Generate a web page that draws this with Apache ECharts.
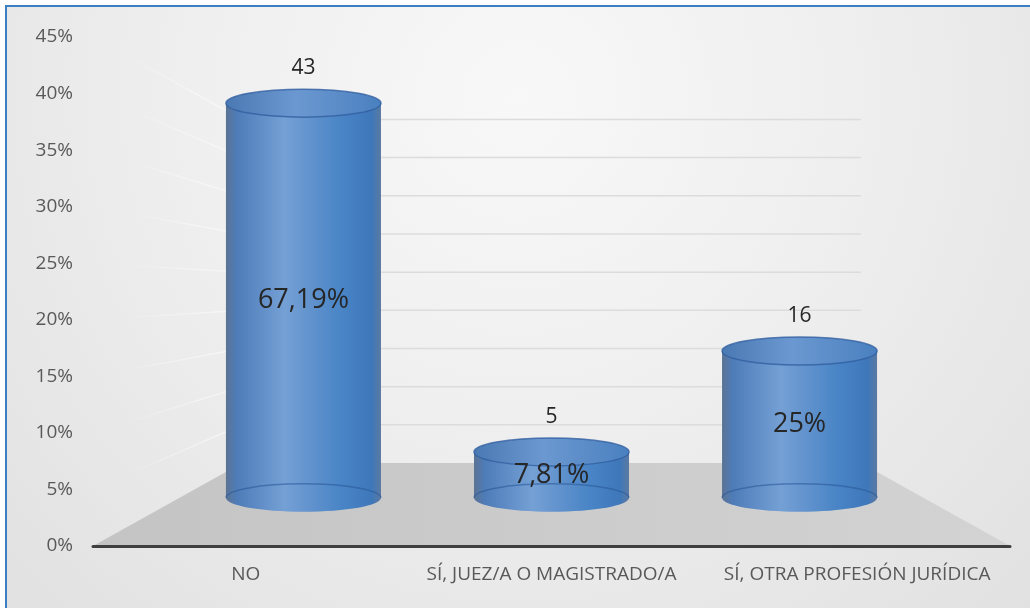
<!DOCTYPE html>
<html>
<head>
<meta charset="utf-8">
<script src="https://cdn.jsdelivr.net/npm/echarts@6/dist/echarts.min.js"></script>
<style>
html, body { margin: 0; padding: 0; background: #fff; }
#frame {
  position: absolute; left: 5px; top: 5px;
  width: 1023px; height: 601px;
  border-top: 2px solid #3a7fc4; border-left: 2px solid #3a7fc4;
}
#chart {
  width: 1023px; height: 601px;
  background: radial-gradient(ellipse at 50% 15%, #f8f8f8 0%, #efefef 45%, #e1e1e1 100%);
}
</style>
</head>
<body>
<div id="frame"><div id="chart"></div></div>
<script>
const categories = ["NO", "SÍ, JUEZ/A O MAGISTRADO/A", "SÍ, OTRA PROFESIÓN JURÍDICA"];
const counts = [43, 5, 16];
const percents = [67.19, 7.81, 25];
const yTicks = [0, 5, 10, 15, 20, 25, 30, 35, 40, 45];

// perspective of the fake 3d box
const BACK_SCALE = 0.675; // back wall size vs front plane
const DEPTH_PX = 83; // how far the back floor edge sits above the front edge
const BAR_DEPTH = 0.58; // where the cylinders stand (0 front, 1 back)

function project(pt, d, cs, y0) {
  const s = 1 - d * (1 - BACK_SCALE);
  const cx = cs.x + cs.width / 2;
  return [cx + (pt[0] - cx) * s, y0 - d * DEPTH_PX - (y0 - pt[1]) * s];
}

let mychart = echarts.init(document.getElementById("chart"));

mychart.setOption({
  animation: false,
  grid: { left: 86, right: 20, top: 30, bottom: 62 },
  xAxis: {
    type: "category",
    data: categories,
    z: 5,
    axisLine: { lineStyle: { color: "#3f3f3f", width: 3 } },
    axisTick: { show: false },
    axisLabel: {
      interval: 0,
      hideOverlap: false,
      color: "#595959",
      fontSize: 19,
      fontFamily: "Open Sans",
      margin: 19
    }
  },
  yAxis: {
    type: "value",
    min: 0,
    max: 45,
    interval: 5,
    axisLine: { show: false },
    axisTick: { show: false },
    splitLine: { show: false },
    axisLabel: {
      color: "#595959",
      fontSize: 19,
      fontFamily: "Open Sans",
      margin: 20,
      formatter: "{value}%"
    }
  },
  series: [
    {
      // floor, back wall and side wall grid lines
      type: "custom",
      silent: true,
      data: [[0, 0]],
      renderItem(params, api) {
        const cs = params.coordSys;
        const y0 = api.coord([0, 0])[1];
        const left = cs.x;
        const right = cs.x + cs.width;
        const bl = project([left, y0], 1, cs, y0);
        const br = project([right, y0], 1, cs, y0);
        const children = [
          {
            type: "polygon",
            shape: { points: [[left, y0], [right, y0], br, bl] },
            style: {
              fill: new echarts.graphic.LinearGradient(0, 0, 1, 0, [
                { offset: 0, color: "#c4c4c4" },
                { offset: 1, color: "#d3d3d3" }
              ])
            }
          }
        ];
        yTicks.forEach(v => {
          if (v === 0) return;
          const yf = api.coord([0, v])[1];
          const pb = project([left, yf], 1, cs, y0);
          const pbr = project([right, yf], 1, cs, y0);
          const x1 = left + (pb[0] - left) * 0.2;
          const y1 = yf + (pb[1] - yf) * 0.2;
          children.push({
            type: "line",
            shape: { x1, y1, x2: pb[0], y2: pb[1] },
            style: {
              stroke: new echarts.graphic.LinearGradient(0, 0, 1, 0, [
                { offset: 0, color: "rgba(255,255,255,0)" },
                { offset: 1, color: "rgba(250,250,250,0.75)" }
              ]),
              lineWidth: 1.5
            }
          });
          children.push({
            type: "line",
            shape: { x1: pb[0], y1: pb[1], x2: pbr[0], y2: pbr[1] },
            style: { stroke: "#dcdcdc", lineWidth: 1.5 }
          });
        });
        return { type: "group", children };
      }
    },
    {
      // cylinders
      type: "custom",
      data: counts.map((c, i) => [i, c]),
      renderItem(params, api) {
        const cs = params.coordSys;
        const i = api.value(0);
        const y0 = api.coord([i, 0])[1];
        const b = project(api.coord([i, 0]), BAR_DEPTH, cs, y0);
        const t = project(api.coord([i, api.value(1)]), BAR_DEPTH, cs, y0);
        const s = 1 - BAR_DEPTH * (1 - BACK_SCALE);
        const rx = api.size([1, 0])[0] * s * 0.3125;
        const ry = 14;
        const bodyFill = new echarts.graphic.LinearGradient(0, 0, 1, 0, [
          { offset: 0, color: "#5b7394" },
          { offset: 0.07, color: "#4e7cb8" },
          { offset: 0.38, color: "#74a0d5" },
          { offset: 0.5, color: "#6796cf" },
          { offset: 0.75, color: "#4884c6" },
          { offset: 0.94, color: "#3f78ba" },
          { offset: 1, color: "#5a79a2" }
        ]);
        const topFill = new echarts.graphic.LinearGradient(0, 0, 1, 0, [
          { offset: 0, color: "#4a78b2" },
          { offset: 0.45, color: "#6b98d0" },
          { offset: 1, color: "#4a80c0" }
        ]);
        const label = String(percents[i]).replace(".", ",") + "%";
        return {
          type: "group",
          children: [
            {
              type: "ellipse",
              shape: { cx: b[0], cy: b[1], rx, ry },
              style: { fill: bodyFill }
            },
            {
              type: "rect",
              shape: { x: b[0] - rx, y: t[1], width: rx * 2, height: b[1] - t[1] },
              style: { fill: bodyFill }
            },
            {
              type: "path",
              shape: {
                pathData: `M ${b[0] - rx} ${b[1]} A ${rx} ${ry} 0 0 1 ${b[0] + rx} ${b[1]}`
              },
              style: { fill: null, stroke: "rgba(40,85,150,0.55)", lineWidth: 1.5 }
            },
            {
              type: "ellipse",
              shape: { cx: t[0], cy: t[1], rx, ry },
              style: { fill: topFill, stroke: "rgba(50,95,160,0.8)", lineWidth: 1.5 }
            },
            {
              type: "text",
              x: t[0],
              y: t[1] - 35,
              style: {
                text: String(api.value(1)),
                fill: "#262626",
                fontSize: 21,
                fontFamily: "Open Sans",
                align: "center",
                verticalAlign: "middle"
              }
            },
            {
              type: "text",
              x: t[0],
              y: (t[1] + b[1]) / 2,
              style: {
                text: label,
                fill: "#262626",
                fontSize: 27,
                fontFamily: "Open Sans",
                align: "center",
                verticalAlign: "middle"
              }
            }
          ]
        };
      }
    }
  ]
});
</script>
</body>
</html>
